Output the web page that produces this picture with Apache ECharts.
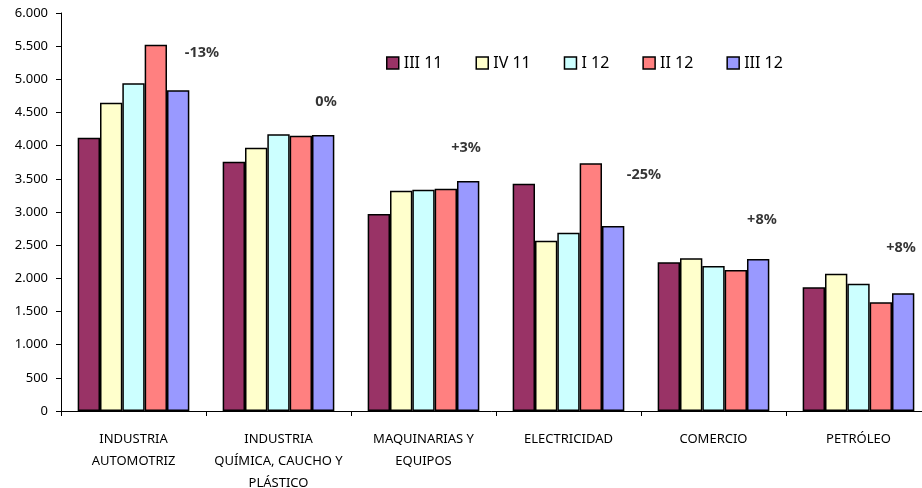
<!DOCTYPE html>
<html>
<head>
<meta charset="utf-8">
<script src="https://cdn.jsdelivr.net/npm/echarts@6/dist/echarts.min.js"></script>
<style>html,body{margin:0;padding:0;background:#fff}#c{width:922px;height:488px}</style>
</head>
<body>
<div id="c"></div>
<script>
var categories = ['INDUSTRIA\nAUTOMOTRIZ', 'INDUSTRIA\nQUÍMICA, CAUCHO Y\nPLÁSTICO', 'MAQUINARIAS Y\nEQUIPOS', 'ELECTRICIDAD', 'COMERCIO', 'PETRÓLEO'];
var seriesNames = ['III 11', 'IV 11', 'I 12', 'II 12', 'III 12'];
var s_III11 = [4120, 3758, 2970, 3427, 2242, 1865];
var s_IV11  = [4648, 3970, 3321, 2568, 2302, 2070];
var s_I12   = [4940, 4171, 3336, 2688, 2186, 1919];
var s_II12  = [5522, 4151, 3351, 3734, 2126, 1639];
var s_III12 = [4835, 4161, 3468, 2789, 2292, 1774];
var pctLabels = ['-13%', '0%', '+3%', '-25%', '+8%', '+8%'];
// anchor of each percentage note, in chart units (category position, value)
var pctLabelX = [0.972, 1.828, 2.793, 4.02, 4.834, 5.793];
var pctLabelY = [5397, 4659, 3965, 3558, 2880, 2457];
var yTicks = [0, 500, 1000, 1500, 2000, 2500, 3000, 3500, 4000, 4500, 5000, 5500, 6000];

var colors = ['#993366', '#FFFFCC', '#CCFFFF', '#FF8080', '#9999FF'];
var allSeries = [s_III11, s_IV11, s_I12, s_II12, s_III12];
var FONT = 'Noto Sans';

var chart = echarts.init(document.getElementById('c'), null, {renderer: 'canvas'});
var series = allSeries.map(function (d, i) {
  return {
    name: seriesNames[i], type: 'bar', data: d,
    xAxisIndex: 0, yAxisIndex: 0,
    barGap: '0%', barCategoryGap: '23%',
    itemStyle: {color: colors[i], borderColor: '#000', borderWidth: 1.5},
    emphasis: {disabled: true}
  };
});
series.push({
  type: 'scatter', xAxisIndex: 1, yAxisIndex: 0, symbolSize: 0,
  silent: true,
  data: pctLabels.map(function (t, i) { return {name: t, value: [pctLabelX[i], pctLabelY[i]]}; }),
  label: {show: true, position: 'inside', formatter: '{b}', color: '#000',
    fontFamily: FONT, fontWeight: 'bold', fontSize: 14.5}
});

chart.setOption({
  animation: false,
  color: colors,
  legend: {
    data: seriesNames, left: 381, top: 50, itemWidth: 12, itemHeight: 12, itemGap: 33,
    icon: 'rect',
    itemStyle: {borderColor: '#000', borderWidth: 1.5},
    textStyle: {fontFamily: FONT, fontSize: 16, color: '#000'}
  },
  grid: {left: 61, right: -9, top: 13, bottom: 77, containLabel: false, outerBoundsMode: 'none'},
  xAxis: [{
    type: 'category', data: categories,
    axisLine: {lineStyle: {color: '#000', width: 1}},
    axisTick: {show: true, alignWithLabel: false, length: 5, lineStyle: {color: '#000'}},
    axisLabel: {interval: 0, margin: 17, fontFamily: FONT, fontSize: 13, color: '#000', lineHeight: 22}
  }, {
    type: 'value', min: 0, max: 6, show: false
  }],
  yAxis: {
    type: 'value', min: 0, max: 6000, interval: 500,
    splitLine: {show: false},
    axisLine: {show: true, lineStyle: {color: '#000', width: 1}},
    axisTick: {show: true, length: 5, lineStyle: {color: '#000'}},
    axisLabel: {margin: 13, fontFamily: FONT, fontSize: 13, color: '#000',
      formatter: function (v) { return String(v).replace(/\B(?=(\d{3})+(?!\d))/g, '.'); }}
  },
  series: series
});
</script>
</body>
</html>
